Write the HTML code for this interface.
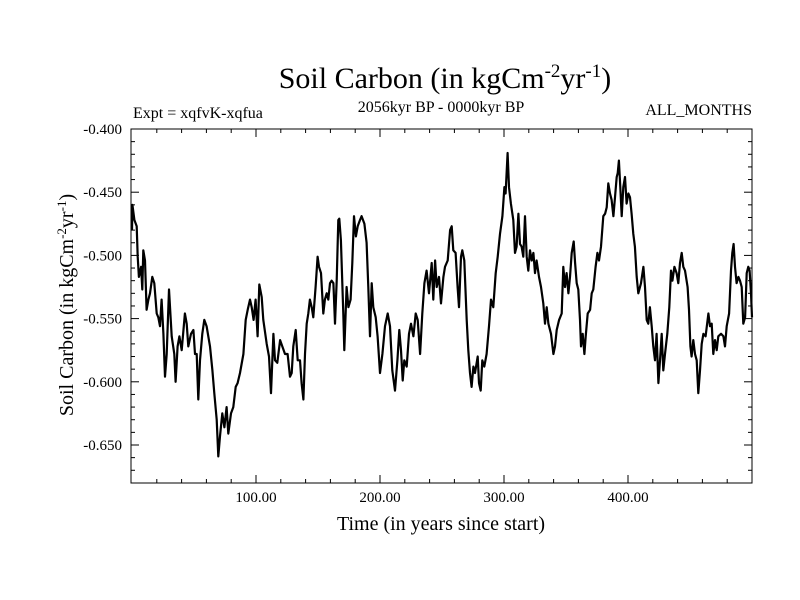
<!DOCTYPE html>
<html><head><meta charset="utf-8"><style>
html,body{margin:0;padding:0;background:#fff;}
svg{display:block;font-family:"Liberation Serif",serif;}
</style></head><body>
<svg id="chart" width="800" height="600">
<text x="445" y="88" font-size="30" text-anchor="middle">Soil Carbon (in kgCm<tspan dy="-11" font-size="19">-2</tspan><tspan dy="11">yr</tspan><tspan dy="-11" font-size="19">-1</tspan><tspan dy="11">)</tspan></text>
<text x="441" y="112" font-size="16" text-anchor="middle">2056kyr BP - 0000kyr BP</text>
<text x="133" y="118" font-size="16">Expt = xqfvK-xqfua</text>
<text x="752" y="115" font-size="16" text-anchor="end">ALL_MONTHS</text>
<text x="441" y="530" font-size="20" text-anchor="middle">Time (in years since start)</text>
<text transform="translate(73,305) rotate(-90)" font-size="20" text-anchor="middle">Soil Carbon (in kgCm<tspan dy="-7" font-size="13">-2</tspan><tspan dy="7">yr</tspan><tspan dy="-7" font-size="13">-1</tspan><tspan dy="7">)</tspan></text>
<g id="ticks"></g>
<g id="series"></g>
<rect x="131" y="129" width="621" height="354" fill="none" stroke="#000" stroke-width="1"/>
</svg>
<script>
const xTickValues=[100,200,300,400];
const xTickLabels=["100.00","200.00","300.00","400.00"];
const yTickValues=[-0.4,-0.45,-0.5,-0.55,-0.6,-0.65];
const yTickLabels=["-0.400","-0.450","-0.500","-0.550","-0.600","-0.650"];
const years=[0,0.3,1.9,3.8,4.6,5.6,7.3,8.3,9.1,10.5,11.8,13.2,14.5,16.4,18,19.9,21.2,22.6,23.9,25.3,26.6,28,29.8,32,34.1,35.2,36.8,38.2,40.1,42.7,44.1,45.4,47.6,49.5,50.8,52.2,53.5,54.8,56.7,58.3,60.2,62.9,64.8,66.4,68.3,69.6,71,72.8,74.5,76.3,77.7,79.8,81.7,83.6,85.2,87.1,89.8,91.7,93.3,95.2,96.5,98.1,99.7,101.3,102.7,104.6,105.9,108.6,110.5,112.1,114,115.3,117.2,119.4,121.2,123.4,125.5,127.4,128.8,130.1,132,133.6,135.5,136.8,138.2,139.5,140.9,142.2,143.5,144.9,146.2,148.1,149.7,150.8,152.4,154.3,155.6,157,158.3,159.7,161,162.4,163.7,165.1,166.4,167.2,168.5,170.4,171.2,173.1,174.5,176.3,177.7,179,180.6,182,183.9,185.2,187.4,189.2,190.6,191.9,193.3,194.6,196.5,198.1,200,201.9,204,206.2,208.1,209.9,212.1,214,215.6,216.9,218.3,219.6,221.5,223.4,225,226.9,228.8,230.4,232.3,234.1,235.8,237.6,239.5,241.7,243,244.4,245.7,247.6,249.2,251.1,252.4,254.6,256.5,257.8,259.1,261,262.6,263.7,265.3,266.4,268,269.9,271.2,272.6,273.9,275.3,276.6,278.8,279.8,281.2,282.5,284.1,286,287.9,289.5,291.4,293.3,294.9,296.8,298.7,300.3,301.3,302.9,304,305.6,307.5,308.9,310.2,311.6,312.9,314.2,315.6,316.9,318.3,319.6,321,322.3,323.7,325,326.3,328.2,329.8,331.7,333.1,334.4,335.8,337.9,339.8,341.1,342.5,344.4,346.5,347.8,349.2,350.5,351.9,353.2,354.6,356.2,357.3,358.6,359.9,361.3,362.1,363.5,364.8,365.9,367.5,369.4,370.7,372,373.9,375.3,376.6,378.2,380.1,381.5,382.8,384.1,385.5,386.8,388.2,389.5,390.9,391.7,392.7,393.8,394.9,396.2,397.6,398.9,400.3,401.6,402.9,404.3,405.6,407,408.3,410.5,412.4,413.7,415.1,416.4,417.7,419.1,420.4,421.8,423.1,424.5,425.8,427.2,428.5,429.8,431.7,433.3,434.7,435.8,437.4,439.2,440.6,441.9,443.3,444.6,446,448.1,449.2,450.3,451.3,452.7,454,455.4,456.7,458.1,459.4,460.8,462.6,464.8,466.1,467.5,468.8,470.2,471.5,472.8,475,476.9,478.2,479.6,481.5,483.1,484.1,485.2,486.3,487.6,489,490.3,491.7,493,494.4,495.7,497,498.1,499.2,500];
const soilCarbon=[-0.480,-0.460,-0.472,-0.477,-0.501,-0.517,-0.509,-0.527,-0.496,-0.504,-0.543,-0.535,-0.530,-0.517,-0.522,-0.546,-0.549,-0.556,-0.535,-0.562,-0.596,-0.578,-0.527,-0.564,-0.578,-0.600,-0.572,-0.564,-0.575,-0.546,-0.554,-0.572,-0.562,-0.559,-0.578,-0.578,-0.614,-0.583,-0.562,-0.551,-0.556,-0.572,-0.591,-0.609,-0.630,-0.659,-0.643,-0.625,-0.636,-0.620,-0.641,-0.625,-0.620,-0.604,-0.601,-0.593,-0.578,-0.551,-0.543,-0.535,-0.541,-0.551,-0.535,-0.564,-0.523,-0.533,-0.551,-0.570,-0.580,-0.609,-0.562,-0.583,-0.585,-0.567,-0.572,-0.578,-0.578,-0.596,-0.593,-0.572,-0.559,-0.583,-0.583,-0.601,-0.614,-0.578,-0.554,-0.546,-0.535,-0.541,-0.549,-0.525,-0.501,-0.509,-0.514,-0.546,-0.535,-0.530,-0.535,-0.522,-0.520,-0.522,-0.554,-0.520,-0.472,-0.471,-0.488,-0.546,-0.575,-0.525,-0.541,-0.535,-0.506,-0.469,-0.485,-0.477,-0.472,-0.469,-0.475,-0.490,-0.525,-0.564,-0.522,-0.541,-0.549,-0.564,-0.593,-0.578,-0.556,-0.546,-0.556,-0.591,-0.607,-0.583,-0.559,-0.575,-0.599,-0.583,-0.588,-0.562,-0.554,-0.564,-0.546,-0.551,-0.578,-0.546,-0.522,-0.512,-0.530,-0.506,-0.535,-0.504,-0.525,-0.517,-0.538,-0.517,-0.509,-0.504,-0.480,-0.477,-0.496,-0.498,-0.525,-0.541,-0.501,-0.496,-0.504,-0.551,-0.575,-0.593,-0.604,-0.588,-0.593,-0.580,-0.601,-0.607,-0.583,-0.588,-0.578,-0.556,-0.535,-0.541,-0.514,-0.501,-0.483,-0.469,-0.446,-0.451,-0.419,-0.446,-0.459,-0.472,-0.498,-0.493,-0.467,-0.491,-0.493,-0.501,-0.469,-0.501,-0.512,-0.496,-0.504,-0.498,-0.514,-0.504,-0.517,-0.525,-0.538,-0.554,-0.541,-0.554,-0.562,-0.578,-0.572,-0.559,-0.551,-0.546,-0.509,-0.525,-0.514,-0.530,-0.517,-0.498,-0.489,-0.506,-0.522,-0.527,-0.551,-0.572,-0.562,-0.578,-0.564,-0.546,-0.543,-0.530,-0.527,-0.509,-0.498,-0.504,-0.493,-0.469,-0.467,-0.462,-0.443,-0.451,-0.456,-0.469,-0.454,-0.438,-0.435,-0.425,-0.446,-0.469,-0.446,-0.438,-0.459,-0.451,-0.454,-0.467,-0.483,-0.493,-0.517,-0.530,-0.522,-0.509,-0.525,-0.551,-0.554,-0.541,-0.556,-0.572,-0.583,-0.562,-0.601,-0.583,-0.562,-0.591,-0.578,-0.562,-0.541,-0.512,-0.520,-0.509,-0.514,-0.522,-0.506,-0.498,-0.509,-0.512,-0.525,-0.543,-0.572,-0.580,-0.567,-0.578,-0.583,-0.609,-0.591,-0.570,-0.562,-0.564,-0.546,-0.556,-0.554,-0.578,-0.567,-0.575,-0.564,-0.562,-0.564,-0.572,-0.556,-0.546,-0.512,-0.498,-0.491,-0.509,-0.522,-0.517,-0.520,-0.525,-0.554,-0.549,-0.514,-0.509,-0.512,-0.530,-0.549];

const NS='http://www.w3.org/2000/svg';
function xScale(v){return 132+v*1.24;}
function yScale(v){return 129+(-0.4-v)/0.05*63.2;}
const tg=document.getElementById('ticks');
const sg=document.getElementById('series');
function line(x1,y1,x2,y2){const l=document.createElementNS(NS,'line');l.setAttribute('x1',x1);l.setAttribute('y1',y1);l.setAttribute('x2',x2);l.setAttribute('y2',y2);l.setAttribute('stroke','#000');l.setAttribute('stroke-width','1');tg.appendChild(l);return l;}
// x ticks (minor every 20, major 100)
for(let v=20;v<500;v+=20){
  const major=v%100===0;const len=major?8:4;const x=xScale(v);
  const a=line(x,483,x,483-len);
  
  
  const b=line(x,129,x,129+len);
  
  
}
// y ticks (minor every 0.01)
for(let i=0;i<=27;i++){
  const v=-0.4-i*0.01;const major=i%5===0;const len=major?8:4;const y=yScale(v);
  const a=line(131,y,131+len,y);
  
  
  const b=line(752,y,752-len,y);
  
  
}
xTickValues.forEach((v,i)=>{
  const t=document.createElementNS(NS,'text');
  t.setAttribute('x',xScale(v));t.setAttribute('y',502);t.setAttribute('font-size','15');t.setAttribute('text-anchor','middle');
  t.textContent=xTickLabels[i];
  
  
  tg.appendChild(t);
});
yTickValues.forEach((v,i)=>{
  const t=document.createElementNS(NS,'text');
  t.setAttribute('x',122);t.setAttribute('y',yScale(v)+5);t.setAttribute('font-size','15');t.setAttribute('text-anchor','end');
  t.textContent=yTickLabels[i];
  
  
  tg.appendChild(t);
});
let d='';
years.forEach((yr,i)=>{d+=(i?'L':'M')+xScale(yr).toFixed(1)+','+yScale(soilCarbon[i]).toFixed(1);});
d+='L'+xScale(500).toFixed(1)+','+yScale(soilCarbon[soilCarbon.length-1]).toFixed(1);
const p=document.createElementNS(NS,'path');
p.setAttribute('d',d);p.setAttribute('fill','none');p.setAttribute('stroke','#000');p.setAttribute('stroke-width','2.2');p.setAttribute('stroke-linejoin','round');


sg.appendChild(p);
</script>
</body></html>
